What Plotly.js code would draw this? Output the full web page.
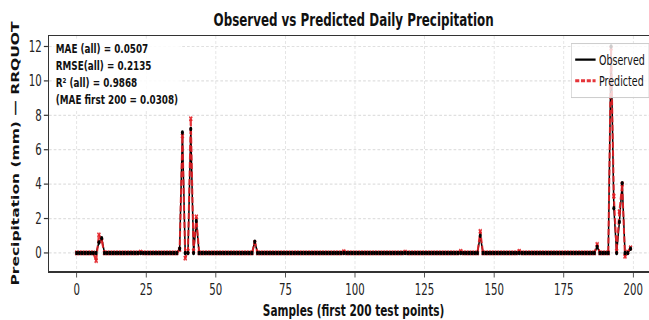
<!DOCTYPE html>
<html>
<head>
<meta charset="utf-8">
<script src="https://cdn.plot.ly/plotly-3.0.1.min.js"></script>
<style>
html, body { margin:0; padding:0; overflow:hidden; width:649px; height:320px; background:#fff; }
#wrap { position:absolute; left:0; top:0; transform-origin:0 0; transform:scaleX(0.68); }
</style>
</head>
<body>
<div id="wrap"><div id="chart"></div></div>
<script>
// Observed daily precipitation (mm), first 200 test samples (index = sample)
const observed = [
  0,0,0,0,0,0,0,0,0.6,0.85, 0,0,0,0,0,0,0,0,0,0,
  0,0,0,0,0,0,0,0,0,0, 0,0,0,0,0,0,0,0.25,7.0,0,
  0,7.2,0,1.85,0,0,0,0,0,0, 0,0,0,0,0,0,0,0,0,0,
  0,0,0,0,0.65,0,0,0,0,0, 0,0,0,0,0,0,0,0,0,0,
  0,0,0,0,0,0,0,0,0,0, 0,0,0,0,0,0,0,0,0,0,
  0,0,0,0,0,0,0,0,0,0, 0,0,0,0,0,0,0,0,0,0,
  0,0,0,0,0,0,0,0,0,0, 0,0,0,0,0,0,0,0,0,0,
  0,0,0,0,0,1.0,0,0,0,0, 0,0,0,0,0,0,0,0,0,0,
  0,0,0,0,0,0,0,0,0,0, 0,0,0,0,0,0,0,0,0,0,
  0,0,0,0,0,0,0,0.35,0,0, 0,0,12.0,2.6,0,1.8,4.05,0,0,0.25
];
// Predicted daily precipitation (mm)
const predicted = [
  0,0,0,0,0,0,0,-0.45,1.05,0.7, 0,0,0,0,0,0,0,0,0,0,
  0,0,0,0.05,0,0,0,0,0,0, 0,0,0,0,0,0,0,0.2,6.8,-0.3,
  0.1,7.8,0.1,2.1,0,0,0,0,0,0, 0,0,0,0,0,0,0,0,0,0,
  0,0,0,0,0.6,0,0,0,0,0, 0,0,0,0,0,0,0,0,0,0,
  0,0,0,0,0,0,0,0,0,0, 0,0,0,0,0,0,0.08,0,0,0,
  0,0,0,0,0,0,0,0,0,0, 0,0,0,0,0,0,0,0,0.05,0,
  0,0,0,0,0,0,0,0,0,0, 0,0,0,0,0,0,0,0,0.1,0,
  0,0,0,0,0,1.25,0,0,0,0, 0,0,0,0,0,0,0,0,0,0.1,
  0,0,0,0,0,0,0,0,0,0, 0,0,0,0,0,0,0,0,0,0,
  0,0,0,0,0,0,0,0.5,0,0, 0,0,11.9,3.3,0.1,2.4,4.0,-0.2,0.05,0.3
];
const xTicks = [0,25,50,75,100,125,150,175,200];
const yTicks = [0,2,4,6,8,10,12];
const statsLines = [
  "MAE (all) = 0.0507",
  "RMSE(all) = 0.2135",
  "R\u00b2 (all) = 0.9868",
  "(MAE first 200 = 0.0308)"
];

const FONT = "DejaVu Sans, Noto Sans, sans-serif";
const RED = "rgba(226,30,36,0.9)";

const traces = [
  { y: observed, type: "scatter", mode: "lines", name: "Observed",
    line: { color: "#000", width: 2.2 } },
  { y: predicted, type: "scatter", mode: "lines", name: "Predicted",
    line: { color: RED, width: 3, dash: "6px,2.5px" } },
  { y: predicted, type: "scatter", mode: "markers", showlegend: false, hoverinfo: "skip",
    marker: { symbol: "x", size: 5, color: RED } },
  { y: observed, type: "scatter", mode: "markers", showlegend: false, hoverinfo: "skip",
    marker: { symbol: "circle", size: 4.5, color: "#000" } }
];

const layout = {
  width: 1030, height: 320,
  margin: { l: 72.06, r: 62.4, t: 36, b: 49.3, pad: 0 },
  paper_bgcolor: "#fff", plot_bgcolor: "#fff",
  font: { family: FONT, color: "#111" },
  title: { text: "Observed vs Predicted Daily Precipitation",
           font: { family: FONT, size: 17.5, weight: "bold", color: "#111" },
           x: 0.5, xref: "paper", xanchor: "center", y: 1 - 20/320, yref: "container", yanchor: "middle" },
  xaxis: {
    range: [-9.95, 208.95], tickvals: xTicks, ticktext: xTicks.map(String),
    ticks: "outside", ticklen: 5, tickwidth: 1.2, tickcolor: "#333",
    tickfont: { family: FONT, size: 15, color: "#222" },
    showline: true, linecolor: "#333", linewidth: 1.5, mirror: true,
    showgrid: true, gridcolor: "#e0e0e0", griddash: "3px,2px", gridwidth: 1.2,
    zeroline: false,
    title: { text: "Samples (first 200 test points)", standoff: 8,
             font: { family: FONT, size: 15.5, weight: "bold", color: "#111" } }
  },
  yaxis: {
    range: [-1.05, 12.61], tickvals: yTicks, ticktext: yTicks.map(String),
    ticks: "outside", ticklen: 6, tickwidth: 1.2, tickcolor: "#333",
    tickfont: { family: FONT, size: 15, color: "#222" },
    showline: true, linecolor: "#333", linewidth: 1.5, mirror: true,
    showgrid: true, gridcolor: "#e0e0e0", griddash: "4px,3px", gridwidth: 1.2,
    zeroline: false,
    title: { text: "Precipitation (mm) \u2014 RRQUOT", standoff: 10,
             font: { family: FONT, size: 15.5, weight: "bold", color: "#111" } }
  },
  legend: {
    x: 0.857, y: 0.97, xanchor: "left", yanchor: "top",
    bgcolor: "rgba(255,255,255,0.8)", bordercolor: "#cccccc", borderwidth: 1,
    font: { family: FONT, size: 14, color: "#111" }, tracegroupgap: 2
  },
  annotations: [{
    xref: "paper", yref: "paper", x: 0.008, y: 0.99, xanchor: "left", yanchor: "top",
    align: "left", showarrow: false, text: statsLines.join("<br>"),
    font: { family: FONT, size: 13, weight: "bold", color: "#111" },
    bgcolor: "rgba(255,255,255,0.85)", borderpad: 2
  }],
  showlegend: true
};

Plotly.newPlot("chart", traces, layout, { staticPlot: true, displayModeBar: false });
</script>
</body>
</html>
